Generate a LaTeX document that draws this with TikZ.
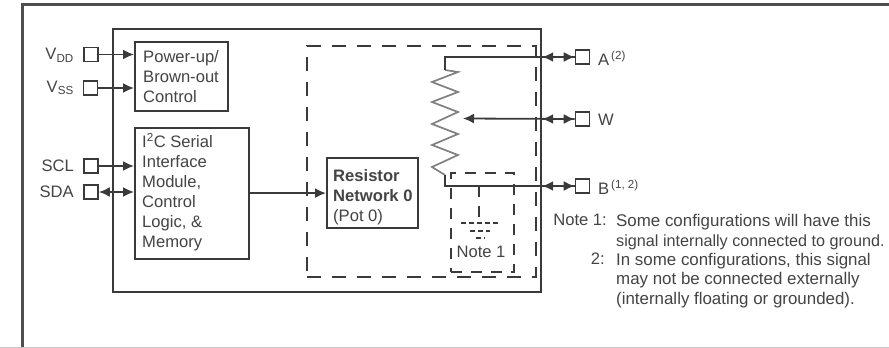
\documentclass[tikz,border=0pt]{standalone}
\usepackage{fontspec}
\setmainfont{Liberation Sans}
\usetikzlibrary{arrows.meta}
\definecolor{ink}{HTML}{3A3A3A}
\definecolor{txt}{HTML}{444444}
\tikzset{
  box/.style={draw=ink,line width=2.2pt,anchor=north west,inner sep=0pt},
  pin/.style={draw=ink,line width=1.7pt,minimum width=14pt,minimum height=14pt,inner sep=0pt,fill=white},
  lbl/.style={text=txt,font=\fontsize{16.6pt}{20pt}\selectfont,inner sep=0pt},
  blocktext/.style={lbl,align=left,anchor=north west},
  wire/.style={draw=ink,line width=1.8pt},
  arr/.style={wire,-{Latex[length=11pt,width=10pt]}},
  biarr/.style={wire,{Latex[length=11pt,width=10pt]}-{Latex[length=11pt,width=10pt]}},
  dash outer/.style={draw=ink,line width=1.9pt,dash pattern=on 14pt off 11pt},
  dash inner/.style={draw=ink,line width=1.7pt,dash pattern=on 11pt off 9pt},
  dash gnd/.style={draw=ink,line width=1.7pt,dash pattern=on 5pt off 3pt},
}
\begin{document}
\begin{tikzpicture}[x=1pt,y=-1pt]
\useasboundingbox (0,0) rectangle (889,348);
\fill[white] (0,0) rectangle (889,348);
% page frame
\draw[ink!90,line width=2.4pt] (889,4.5) -- (22.5,4.5) -- (22.5,347);
\draw[black!22,line width=1pt] (0,347.5) -- (889,347.5);
% main chip outline
\node[box,minimum width=428pt,minimum height=263pt] (chip) at (112,28) {};
% dashed blocks
\node[dash outer,anchor=north west,minimum width=229pt,minimum height=231pt,inner sep=0pt] (pot) at (306,45) {};
\node[dash inner,anchor=north west,minimum width=63pt,minimum height=99pt,inner sep=0pt] (noteb) at (450,172) {};
% function blocks
\node[box,minimum width=93pt,minimum height=69pt] (power) at (134,41) {};
\node[blocktext] at (143,50) {Power-up/\\Brown-out\\Control};
\node[box,minimum width=114pt,minimum height=131pt] (iic) at (134,127) {};
\node[blocktext] at (142,133) {I\textsuperscript{2}C Serial\\Interface\\Module,\\Control\\Logic, \&\\Memory};
\node[box,minimum width=91pt,minimum height=70pt] (res) at (326,157) {};
\node[blocktext] at (333,169) {\textbf{Resistor}\\\textbf{Network 0}\\(Pot 0)};
% left pins
\node[pin] (vdd) at (91,54.5) {};
\node[pin] (vss) at (90.5,88) {};
\node[pin] (scl) at (91,166) {};
\node[pin] (sda) at (91,192) {};
\node[lbl,anchor=east] (vddl) at (74,55.5) {V\textsubscript{DD}};
\node[lbl,anchor=east] (vssl) at (74,88) {V\textsubscript{SS}};
\node[lbl,anchor=east] (scll) at (74,166) {SCL};
\node[lbl,anchor=east] (sdal) at (74,192) {SDA};
% right pins
\node[pin] (pa) at (582.5,57) {};
\node[pin] (pw) at (582.5,119) {};
\node[pin] (pb) at (582.5,186) {};
\node[lbl,anchor=west] (al) at (598,58) {A\textsuperscript{\,(2)}};
\node[lbl,anchor=west] (wl) at (598,120) {W};
\node[lbl,anchor=west] (bl) at (598,187) {B\textsuperscript{\,(1, 2)}};
% connectors left
\draw[arr] (vdd.east) -- (vdd.east -| power.west);
\draw[arr] (vss.east) -- (vss.east -| power.west);
\draw[arr] (scl.east) -- (scl.east -| iic.west);
\draw[biarr] (sda.east) -- (sda.east -| iic.west);
\draw[arr] (iic.east |- res.west) -- (res.west);
% resistor
\coordinate (rtop) at (445,70);
\coordinate (rbot) at (445,175);
\coordinate (wiper) at (463,118.5);
\draw[draw=black!50,line width=1.7pt,line join=miter]
  (rtop) -- (458,72) -- (432,82) -- (458,92) -- (432,102) -- (458,112)
  -- (432,124) -- (458,134) -- (432,145) -- (458,155) -- (432,167) -- (rbot);
\draw[wire] (rtop) |- (pa.west);
\draw[wire] (rbot) |- (pb.west);
\draw[arr] (pw.west) -- (wiper);
\draw[biarr] (chip.east |- pa.west) -- (pa.west);
\draw[biarr] (chip.east |- pw.west) -- (pw.west);
\draw[biarr] (chip.east |- pb.west) -- (pb.west);
% note 1 ground sketch
\coordinate (gndt) at (479,186);
\coordinate (gndb) at (479,223);
\draw[dash inner] (gndt) -- (gndb);
\draw[dash gnd] (461,223) -- (500,223);
\draw[dash gnd] (470,231) -- (490,231);
\draw[dash gnd] (476,238) -- (485,238);
\node[lbl] (n1) at (481,252) {Note 1};
% notes
\node[lbl,anchor=north east] (nk1) at (607,214) {Note 1:};
\node[lbl,anchor=north east] (nk2) at (605,253) {2:};
\node[lbl,align=left,anchor=north west,font=\fontsize{16.9pt}{19.3pt}\selectfont] (nt) at (616,214.5)
  {Some configurations will have this\\{\fontsize{16.2pt}{19.3pt}\selectfont signal internally connected to ground.}\\In some configurations, this signal\\may not be connected externally\\(internally floating or grounded).};
\end{tikzpicture}
\end{document}
